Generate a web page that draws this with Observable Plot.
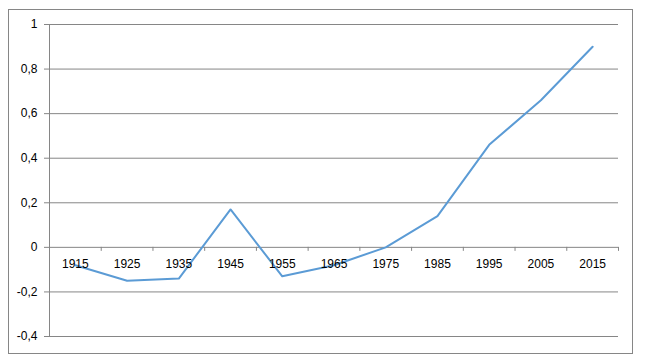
<!DOCTYPE html>
<html>
<head>
<meta charset="utf-8">
<script src="https://cdn.jsdelivr.net/npm/d3@7"></script>
<script src="https://cdn.jsdelivr.net/npm/@observablehq/plot@0.6"></script>
<style>
  html, body { margin: 0; padding: 0; background: #fff; }
  #wrap { position: relative; width: 648px; height: 363px; }
  #border { position: absolute; left: 8px; top: 9px; width: 623px; height: 343px; border: 1px solid #868686; }
  #chart { position: absolute; left: 0; top: 0; }
</style>
</head>
<body>
<div id="wrap"><div id="border"></div><div id="chart"></div></div>
<script>
const years = ["1915","1925","1935","1945","1955","1965","1975","1985","1995","2005","2015"];
const values = [-0.08, -0.15, -0.14, 0.17, -0.13, -0.08, 0.0, 0.14, 0.46, 0.66, 0.90];
const yTicks = [-0.4, -0.2, 0, 0.2, 0.4, 0.6, 0.8, 1];

const data = years.map((y, i) => ({year: y, pos: i + 0.5, value: values[i]}));
const boundaries = d3.range(years.length + 1);
const fmt = v => (Math.round(v * 10) / 10).toString().replace(".", ",");

const plot = Plot.plot({
  width: 648,
  height: 363,
  marginLeft: 49,
  marginRight: 30,
  marginTop: 24,
  marginBottom: 27,
  style: {fontFamily: "'Liberation Sans', Arial, sans-serif", fontSize: "12px", color: "#000", background: "transparent"},
  x: {type: "linear", domain: [0, years.length], axis: null},
  y: {type: "linear", domain: [-0.4, 1], axis: null},
  marks: [
    Plot.ruleY(yTicks, {stroke: "#868686", strokeWidth: 1, strokeOpacity: 1}),
    Plot.ruleX([0], {y1: -0.4, y2: 1, stroke: "#868686", strokeOpacity: 1}),
    Plot.axisY(yTicks, {anchor: "left", label: null, tickSize: 5, tickPadding: 7, tickFormat: fmt, stroke: "#868686", fill: "#000", fontSize: 12}),
    Plot.ruleX(boundaries, {x: d => d, y1: 0, y2: -0.018, stroke: "#868686", strokeOpacity: 1}),
    Plot.line(data, {x: "pos", y: "value", stroke: "#5B9BD5", strokeWidth: 2}),
    Plot.text(data, {x: "pos", y: 0, text: "year", dy: 17, fill: "#000", fontSize: 12})
  ]
});
document.getElementById("chart").appendChild(plot);
</script>
</body>
</html>
